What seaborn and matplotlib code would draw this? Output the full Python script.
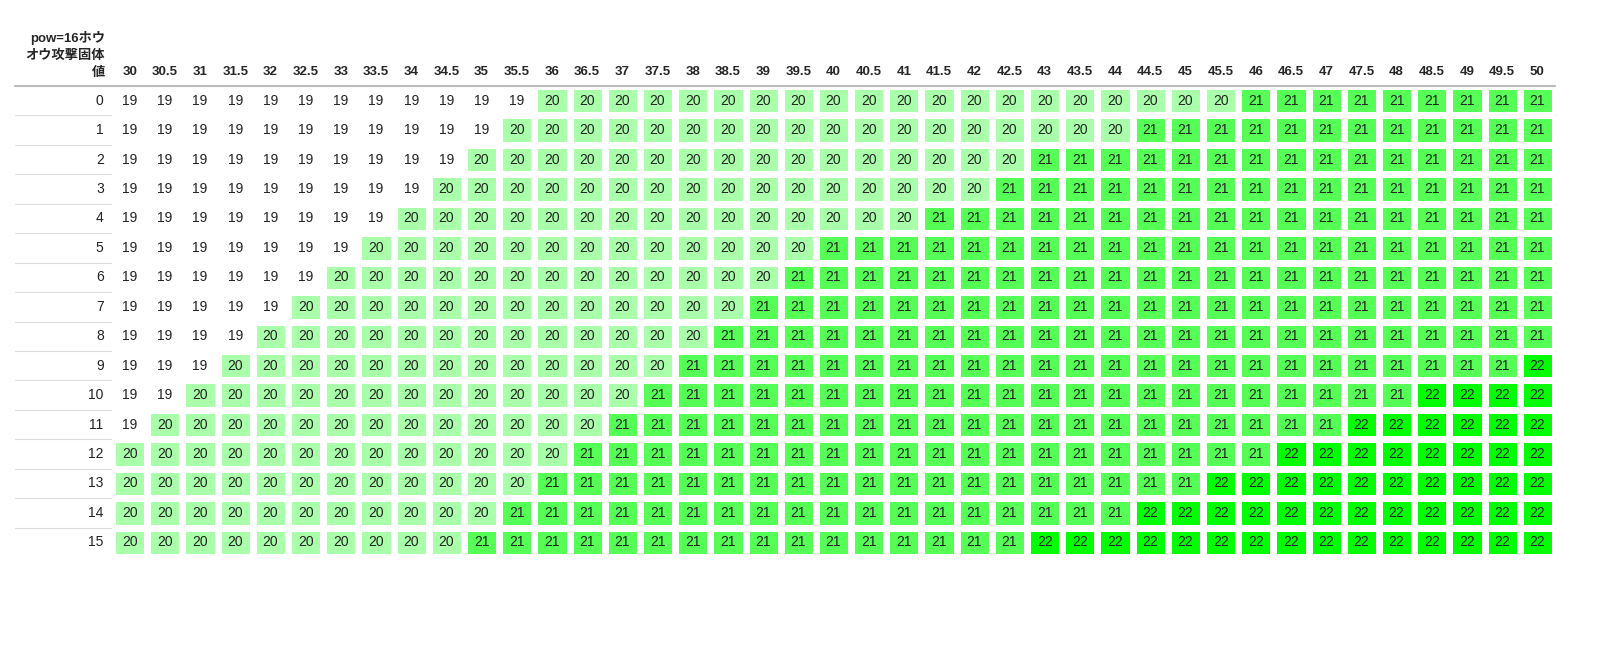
import matplotlib
matplotlib.use("Agg")
import matplotlib.pyplot as plt
from matplotlib.colors import ListedColormap
import numpy as np
import pandas as pd
import seaborn as sns

# column headers: attack values 30..50 step 0.5
columns = ["30", "30.5", "31", "31.5", "32", "32.5", "33", "33.5", "34", "34.5",
           "35", "35.5", "36", "36.5", "37", "37.5", "38", "38.5", "39", "39.5",
           "40", "40.5", "41", "41.5", "42", "42.5", "43", "43.5", "44", "44.5",
           "45", "45.5", "46", "46.5", "47", "47.5", "48", "48.5", "49", "49.5", "50"]
rows = list(range(16))
# first column (as header text) where each row reaches 20 / 21 / 22 (None = never)
first_20 = ["36", "35.5", "35", "34.5", "34", "33.5", "33", "32.5", "32", "31.5",
            "31", "30.5", "30", "30", "30", "30"]
first_21 = ["46", "44.5", "43", "42.5", "41.5", "40", "39.5", "39", "38.5", "38",
            "37.5", "37", "36.5", "36", "35.5", "35"]
first_22 = [None, None, None, None, None, None, None, None, None, "50",
            "48.5", "47.5", "46.5", "45.5", "44.5", "43"]

table = []
for r in rows:
    line = []
    for c in columns:
        v = 19
        if float(c) >= float(first_20[r]):
            v = 20
        if float(c) >= float(first_21[r]):
            v = 21
        if first_22[r] is not None and float(c) >= float(first_22[r]):
            v = 22
        line.append(v)
    table.append(line)
df = pd.DataFrame(table, index=rows, columns=columns)

sns.set_style("white")
plt.rcParams['font.family'] = ['Liberation Sans', 'Noto Sans CJK JP', 'DejaVu Sans']

fig = plt.figure(figsize=(15.98, 6.48), dpi=100)
ax = fig.add_axes([112 / 1598, 1 - 557 / 648, (1555 - 112) / 1598, (557 - 86) / 648])
cmap = ListedColormap(["#aaffaa", "#55ff55", "#00ff00"])
sns.heatmap(df, mask=(df == 19), cmap=cmap, vmin=19.5, vmax=22.5, cbar=False,
            annot=True, fmt="d", annot_kws={"fontsize": 10, "color": "#222222"},
            linewidths=5, linecolor="white", ax=ax)

# 19 cells have no background, text only
for i in range(len(rows)):
    for j in range(len(columns)):
        if df.iat[i, j] == 19:
            ax.text(j + 0.5, i + 0.5, "19", ha="center", va="center",
                    fontsize=10, color="#222222")

# row separators across whole table
x0 = (15 - 112) / ((1555 - 112) / len(columns))
for i in range(1, len(rows)):
    ax.plot([x0, len(columns)], [i, i], color="#dddddd", lw=0.8, clip_on=False, zorder=0)
ax.plot([x0, len(columns)], [0, 0], color="#bbbbbb", lw=1.5, clip_on=False)

ax.xaxis.tick_top()
ax.set_xticklabels(columns, rotation=0, fontsize=9.5, fontweight="bold")
ax.set_yticklabels([str(r) for r in rows], rotation=0, fontsize=10, color="#222222")
ax.tick_params(length=0, pad=6)
ax.set_xlabel("")
ax.set_ylabel("")
ax.text(-0.2, -0.25, "pow=16ホウ\nオウ攻撃固体\n値", ha="right", va="bottom",
        fontsize=9.5, fontweight="bold", linespacing=1.5)

plt.savefig("out.png", dpi=100)
